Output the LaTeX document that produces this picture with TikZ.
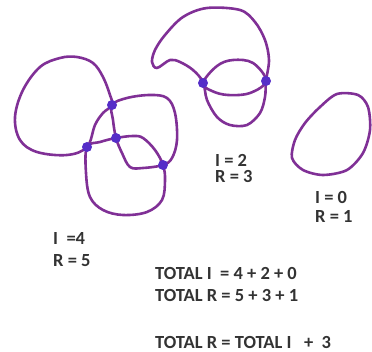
\documentclass[tikz,border=0pt]{standalone}
\usepackage{fontspec}
\setmainfont{Carlito}
\definecolor{loopc}{RGB}{128,48,150}
\definecolor{dotc}{RGB}{85,45,200}
\tikzset{
  loop/.style={draw=loopc, line width=2.6pt, line join=round},
  dotm/.style={circle, fill=dotc, inner sep=0pt, minimum size=10pt},
  lbl/.style={anchor=west, inner sep=0pt, font=\bfseries\fontsize{18.5}{20}\selectfont, text=black!80}
}
\begin{document}
\begin{tikzpicture}[x=1pt,y=-1pt]
\useasboundingbox (0,0) rectangle (372,352);
% left cluster
\draw[loop] plot[smooth cycle, tension=0.6] coordinates {(112,105) (110,95) (103,77) (93,63) (77,57) (60,58) (40,67) (23,90) (15,117) (20,140) (37,152) (67,155) (87,147) (95,125) (103,113)};
\draw[loop] plot[smooth cycle, tension=0.6] coordinates {(112,105) (127,98) (150,95) (167,98) (175,113) (177,140) (172,158) (163,165) (143,168) (130,167) (122,153) (116,138) (113,120)};
\draw[loop] plot[smooth cycle, tension=0.6] coordinates {(87,147) (86,173) (90,197) (103,210) (123,215) (147,212) (162,200) (165,180) (163,165) (155,150) (143,138) (133,136) (116,138) (100,142)};
% middle cluster
\draw[loop] plot[smooth cycle, tension=0.55] coordinates {(203,82) (193,70) (180,62) (170,60) (157,68) (152,62) (155,50) (165,35) (183,17) (207,8) (240,10) (255,22) (265,40) (269,60) (266,81) (265,97) (260,113) (247,125) (230,125) (217,117) (207,100)};
\draw[loop] plot[smooth cycle, tension=0.6] coordinates {(203,83) (217,66) (233,60) (253,63) (266,81) (250,93) (228,95) (212,91)};
% right loop
\draw[loop] plot[smooth cycle, tension=0.5] coordinates {(337,94) (358,95) (368,107) (370,130) (363,153) (347,170) (323,175) (303,170) (292,158) (295,140) (305,123) (320,107)};
% dots
\node[dotm] (d1) at (112,105) {};
\node[dotm] (d2) at (87,147) {};
\node[dotm] (d3) at (116,138) {};
\node[dotm] (d4) at (163,165) {};
\node[dotm] (d5) at (203,83) {};
\node[dotm] (d6) at (266,81) {};
% labels
\node[lbl] (l1) at (53,238) {I \ =4};
\node[lbl] (l2) at (53,261) {R = 5};
\node[lbl] (l3) at (215,160) {I = 2};
\node[lbl] (l4) at (215,177) {R = 3};
\node[lbl] (l5) at (315,197) {I = 0};
\node[lbl] (l6) at (315,216) {R = 1};
\node[lbl] (t1) at (155,273) {TOTAL I \ = 4 + 2 + 0};
\node[lbl] (t2) at (155,295) {TOTAL R = 5 + 3 + 1};
\node[lbl] (t3) at (155,342) {TOTAL R = TOTAL I \ \ + \ 3};
\end{tikzpicture}
\end{document}
